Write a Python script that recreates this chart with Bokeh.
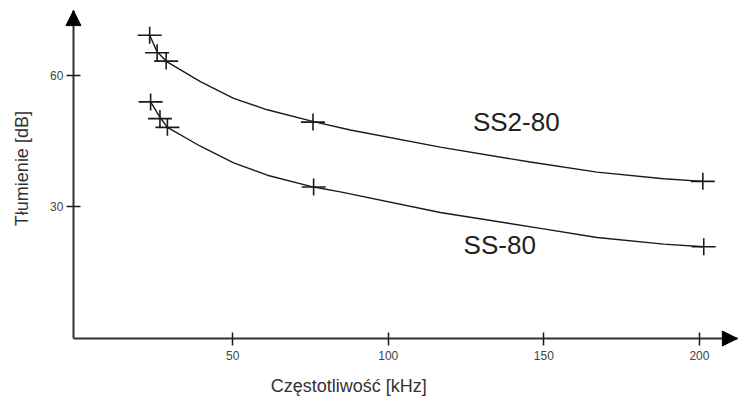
from bokeh.plotting import figure
from bokeh.models import Range1d, FixedTicker, Label, Arrow, NormalHead
from bokeh.embed import file_html
from bokeh.resources import INLINE
import math

# ---- data ----
x_ticks = [50, 100, 150, 200]
y_ticks = [30, 60]

freq_ss2 = [23.3, 25.7, 28.6, 75.8, 201.1]
att_ss2 = [69.1, 65.1, 63.2, 49.3, 35.8]
freq_ss = [23.6, 26.6, 29.0, 76.0, 201.4]
att_ss = [53.9, 50.1, 48.1, 34.5, 20.9]

# fitted trend curves
curve_x_ss2 = [23.3, 25.7, 28.9, 39.6, 50.3, 61.1, 76.0, 87.8, 116.7, 145.6, 167.1, 188.5, 201.1]
curve_y_ss2 = [69.1, 65.3, 63.0, 58.5, 54.7, 52.1, 49.4, 47.5, 43.6, 40.2, 37.9, 36.4, 35.8]
curve_x_ss = [23.6, 26.6, 29.0, 39.6, 50.3, 61.1, 76.0, 84.6, 116.7, 148.9, 167.1, 188.5, 201.4]
curve_y_ss = [53.9, 50.4, 48.1, 43.8, 40.0, 37.2, 34.5, 33.4, 28.7, 25.1, 23.0, 21.5, 20.9]

series_names = ["SS2-80", "SS-80"]
x_title = "Częstotliwość [kHz]"
y_title = "Tłumienie [dB]"

# axis extents (data units)
x_axis_start, x_axis_end = -1.2, 212.2
y_axis_start, y_axis_end = 0.0, 74.7

FONT = "Liberation Sans"
INK = "#1a1a1a"

p = figure(width=738, height=398,
           x_range=Range1d(-24.65, 212.57), y_range=Range1d(-13.67, 77.0),
           output_backend="svg", toolbar_location=None,
           min_border_left=0, min_border_right=0,
           min_border_top=0, min_border_bottom=0)
p.grid.visible = False
p.outline_line_color = None
p.background_fill_color = "white"
p.border_fill_color = "white"

xa, ya = p.xaxis[0], p.yaxis[0]
xa.fixed_location = y_axis_start
ya.fixed_location = x_axis_start
xa.bounds = (x_axis_start, x_axis_end)
ya.bounds = (y_axis_start, y_axis_end)

for ax in (xa, ya):
    ax.axis_line_width = 2
    ax.axis_line_color = "#333333"
    ax.major_tick_line_color = INK
    ax.major_tick_line_width = 1.5
    ax.minor_tick_line_color = None
    ax.major_label_text_font = FONT
    ax.major_label_text_font_size = "12px"
    ax.major_label_text_color = "#444444"

xa.ticker = FixedTicker(ticks=x_ticks)
ya.ticker = FixedTicker(ticks=y_ticks)
xa.major_tick_in = 6
xa.major_tick_out = 7
ya.major_tick_in = 7
ya.major_tick_out = 7
xa.major_label_standoff = 6
ya.major_label_standoff = 3

# curves
p.line(curve_x_ss2, curve_y_ss2, line_color=INK, line_width=1.4)
p.line(curve_x_ss, curve_y_ss, line_color=INK, line_width=1.4)

# cross markers (wider than tall)
for fx, fy in ((freq_ss2, att_ss2), (freq_ss, att_ss)):
    p.scatter(fx, fy, marker="dash", size=24, line_color=INK, line_width=1.6)
    p.scatter(fx, fy, marker="dash", size=17, angle=math.pi / 2, line_color=INK, line_width=1.6)

# series labels
p.add_layout(Label(x=127.2, y=49.3, text=series_names[0], text_font=FONT,
                   text_font_size="26px", text_color="#222222",
                   text_align="left", text_baseline="middle"))
p.add_layout(Label(x=124.2, y=21.3, text=series_names[1], text_font=FONT,
                   text_font_size="26px", text_color="#222222",
                   text_align="left", text_baseline="middle"))

# axis titles
p.add_layout(Label(x=87.3, y=-10.9, text=x_title, text_font=FONT, text_font_size="18px",
                   text_color="#333333", text_align="center", text_baseline="middle"))
p.add_layout(Label(x=-17.6, y=38.7, text=y_title, text_font=FONT, text_font_size="18px",
                   text_color="#333333", text_align="center", text_baseline="middle",
                   angle=math.pi / 2))

# axis arrow heads
p.add_layout(Arrow(end=NormalHead(size=15, fill_color="black", line_color="black"),
                   x_start=x_axis_start, y_start=y_axis_end - 8,
                   x_end=x_axis_start, y_end=y_axis_end, line_alpha=0))
p.add_layout(Arrow(end=NormalHead(size=15, fill_color="black", line_color="black"),
                   x_start=x_axis_end - 8, y_start=y_axis_start,
                   x_end=x_axis_end, y_end=y_axis_start, line_alpha=0))

open("out.html", "w").write(file_html(p, INLINE))
